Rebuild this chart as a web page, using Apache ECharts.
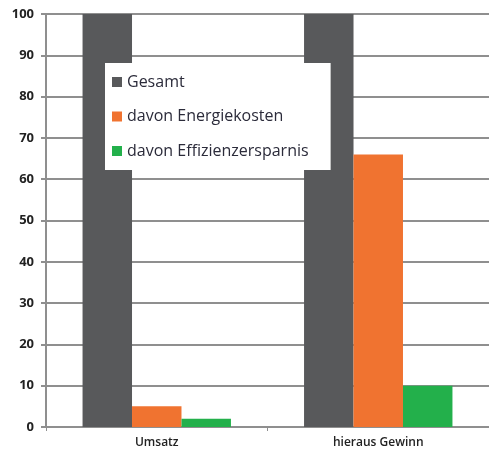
<!DOCTYPE html>
<html>
<head>
<meta charset="utf-8">
<script src="https://cdn.jsdelivr.net/npm/echarts@6/dist/echarts.min.js"></script>
<style>
  html, body { margin: 0; padding: 0; background: #fff; }
  #chart { width: 489px; height: 456px; }
</style>
</head>
<body>
<div id="chart"></div>
<script>
// Daten
var categories = ['Umsatz', 'hieraus Gewinn'];
var seriesNames = ['Gesamt', 'davon Energiekosten', 'davon Effizienzersparnis'];
var gesamt = [100, 100];
var energiekosten = [5, 66];
var effizienz = [2, 10];
var yTicks = [0, 10, 20, 30, 40, 50, 60, 70, 80, 90, 100];

var colors = ['#58595b', '#f07330', '#23b04b'];
var lineColor = '#8f8f8f';
var font = '"Open Sans", sans-serif';

var chart = echarts.init(document.getElementById('chart'));
chart.setOption({
  animation: false,
  color: colors,
  grid: { left: 46, right: 0, top: 14, bottom: 29 },
  legend: {
    data: seriesNames,
    orient: 'vertical',
    left: 105,
    top: 63,
    backgroundColor: '#fff',
    padding: [11, 22, 11, 7],
    itemWidth: 10,
    itemHeight: 10,
    itemGap: 18.5,
    icon: 'rect',
    textStyle: { fontFamily: font, fontSize: 16, color: '#2b2b3a' }
  },
  xAxis: {
    type: 'category',
    data: categories,
    axisLine: { lineStyle: { color: lineColor, width: 2 } },
    axisTick: { show: true, length: 4, lineStyle: { color: lineColor, width: 1 } },
    axisLabel: { fontFamily: font, fontSize: 12, fontWeight: 600, color: '#222', margin: 10 }
  },
  yAxis: {
    type: 'value',
    min: yTicks[0],
    max: yTicks[yTicks.length - 1],
    interval: 10,
    axisLine: { show: true, lineStyle: { color: lineColor, width: 2 } },
    axisTick: { show: true, length: 5, lineStyle: { color: lineColor, width: 2 } },
    axisLabel: { fontFamily: font, fontSize: 13, fontWeight: 'bold', color: '#222', margin: 12 },
    splitLine: { lineStyle: { color: lineColor, width: 2 } }
  },
  series: [
    { name: seriesNames[0], type: 'bar', data: gesamt, barGap: 0, barCategoryGap: '33%' },
    { name: seriesNames[1], type: 'bar', data: energiekosten },
    { name: seriesNames[2], type: 'bar', data: effizienz }
  ]
});
</script>
</body>
</html>
